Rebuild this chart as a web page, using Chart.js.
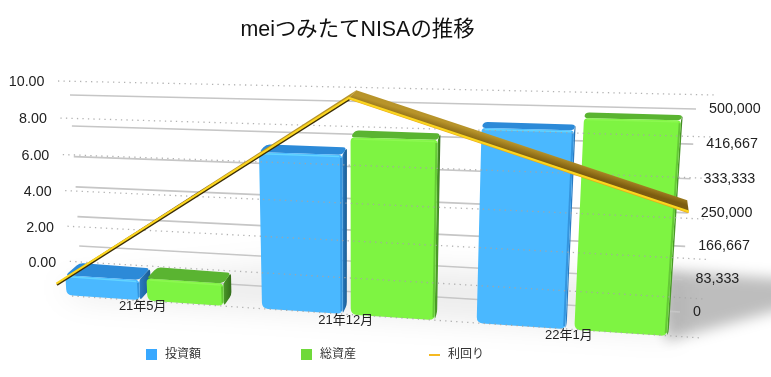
<!DOCTYPE html>
<html><head><meta charset="utf-8">
<style>html,body{margin:0;padding:0;background:#fff}canvas{display:block}</style>
<script src="https://cdn.jsdelivr.net/npm/chart.js@4"></script>
</head><body><canvas id="c" width="771" height="377"></canvas>
<script>
const categories=['21年5月','21年12月','22年1月'];
const invested=[46000,336000,398000];
const totalAssets=[50000,372000,422000];
const yieldRate=[-1.4,9.4,4.3];
const leftTicks=[-2,0,2,4,6,8,10];
const rightTicks=[0,83333,166667,250000,333333,416667,500000];

const FONT='"Liberation Sans","Noto Sans CJK JP",sans-serif';
const GROUP_PCT=.85,BAR_PCT=.91;
// perspective planes: TL, TR, BR, BL
const PLANES={
  wall:[[70,95],[696,109],[680,312],[81,275]],
  front:[[58,81],[715,95],[702,338],[72,296]],
  barFront:[[34.8,69],[708,78.6],[690,337.6],[49,294]],
  barBack:[[52,62],[710,73.6],[692,333.6],[64,281]],
  lineFront:[[44,79],[695,94],[682,336],[57,294]],
  lineBack:[[58,74],[695,84],[679,323],[68,286]]
};
function homography(q){
  const [[x0,y0],[x1,y1],[x2,y2],[x3,y3]]=q;
  const dx1=x1-x2,dx2=x3-x2,dx3=x0-x1+x2-x3,dy1=y1-y2,dy2=y3-y2,dy3=y0-y1+y2-y3;
  const d=dx1*dy2-dx2*dy1;
  const g=(dx3*dy2-dx2*dy3)/d,h=(dx1*dy3-dx3*dy1)/d;
  const a=x1-x0+g*x1,b=x3-x0+h*x3,c=x0,e=y1-y0+g*y1,f=y3-y0+h*y3,k=y0;
  return (u,v)=>{const w=g*u+h*v+1;return [(a*u+b*v+c)/w,(e*u+f*v+k)/w];};
}
const H={};for(const k in PLANES)H[k]=homography(PLANES[k]);

function poly(ctx,pts,r){
  ctx.beginPath();
  const n=pts.length;
  if(!r){pts.forEach((p,i)=>i?ctx.lineTo(p[0],p[1]):ctx.moveTo(p[0],p[1]));ctx.closePath();return;}
  const toward=(a,b,d)=>{const L=Math.hypot(b[0]-a[0],b[1]-a[1])||1,t=Math.min(d,L/2)/L;return [a[0]+(b[0]-a[0])*t,a[1]+(b[1]-a[1])*t];};
  pts.forEach((p,i)=>{
    const rad=Array.isArray(r)?r[i]:r;
    const s=toward(p,pts[(i+n-1)%n],rad),e=toward(p,pts[(i+1)%n],rad);
    if(i)ctx.lineTo(s[0],s[1]);else ctx.moveTo(s[0],s[1]);
    ctx.quadraticCurveTo(p[0],p[1],e[0],e[1]);
  });
  ctx.closePath();
}
const BAR_STYLE=[
 {front:'#4ab8ff',hi:'#62d4ff',top:'#2c8ad8',side:['#2a7cc4','#1b5c92'],edge:'rgba(36,120,195,.55)'},
 {front:'#7ef442',hi:'#8cf850',top:'#5ab431',side:['#4a9a28','#35701c'],edge:'rgba(80,165,45,.55)'}
];
const draw3d={
 id:'draw3d',
 beforeDatasetsDraw(chart){
  const ctx=chart.ctx,A=chart.chartArea,s=chart.scales;
  const U=x=>(x-A.left)/(A.right-A.left),V=y=>(y-A.top)/(A.bottom-A.top);
  const P=(pl,x,y)=>H[pl](U(x),V(y));
  ctx.save();
  // floor shadow
  ctx.save();ctx.filter='blur(14px)';ctx.fillStyle='rgba(0,0,0,.07)';
  poly(ctx,[[55,285],[300,262],[680,280],[680,335],[80,300]]);ctx.fill();
  ctx.filter='blur(7px)';ctx.fillStyle='rgba(0,0,0,.26)';
  poly(ctx,[[662,270],[800,280],[800,304],[666,341]]);ctx.fill();
  ctx.restore();
  // solid wall lines from right axis
  ctx.strokeStyle='#c6c6c6';ctx.lineWidth=1.6;
  s.y1.ticks.forEach(t=>{const y=s.y1.getPixelForValue(t.value);
    const a=P('wall',A.left,y),b=P('wall',A.right,y);
    ctx.beginPath();ctx.moveTo(a[0],a[1]);ctx.lineTo(b[0],b[1]);ctx.stroke();});
  // bars
  const metas=[chart.getDatasetMeta(0),chart.getDatasetMeta(1)];
  const band=s.x.getPixelForTick(1)-s.x.getPixelForTick(0),slot=band*GROUP_PCT/2;
  categories.forEach((_,i)=>{metas.forEach((m,j)=>{
    const b=m.data[i],st=BAR_STYLE[j];
    const cx=s.x.getPixelForTick(i)+(j-.5)*slot,w=slot*BAR_PCT;
    const l=cx-w/2,r=cx+w/2,t=b.y,base=b.base;
    const fTL=P('barFront',l,t),fTR=P('barFront',r,t),fBR=P('barFront',r,base),fBL=P('barFront',l,base);
    const bTL=P('barBack',l,t),bTR=P('barBack',r,t),bBR=P('barBack',r,base);
    // side
    const g=ctx.createLinearGradient(fTR[0],0,bTR[0],0);g.addColorStop(0,st.side[0]);g.addColorStop(1,st.side[1]);
    ctx.fillStyle=g;poly(ctx,[fTR,bTR,bBR,fBR],3);ctx.fill();
    // top
    ctx.fillStyle=st.top;poly(ctx,[fTL,bTL,bTR,fTR],4);ctx.fill();
    // front
    ctx.fillStyle=st.front;poly(ctx,[fTL,fTR,fBR,fBL],[4,4,6,6]);ctx.fill();
    ctx.strokeStyle=st.hi;ctx.lineWidth=1.5;ctx.beginPath();
    ctx.moveTo(fTL[0]+3,fTL[1]+1.5);ctx.lineTo(fTR[0]-3,fTR[1]+1.5);ctx.stroke();
    ctx.strokeStyle=st.edge;ctx.lineWidth=2;ctx.beginPath();
    ctx.moveTo(fTR[0]-1.2,fTR[1]+3);ctx.lineTo(fBR[0]-1.2,fBR[1]-3);ctx.stroke();
  });});
  // dotted lines from left axis
  ctx.strokeStyle='rgba(165,165,165,.85)';ctx.lineWidth=1.3;ctx.setLineDash([1.3,4.2]);
  s.y.ticks.forEach(t=>{const y=s.y.getPixelForValue(t.value);
    const a=P('front',A.left,y),b=P('front',A.right,y);
    ctx.beginPath();ctx.moveTo(a[0],a[1]);ctx.lineTo(b[0],b[1]);ctx.stroke();});
  ctx.setLineDash([]);
  // line ribbon
  const pts=chart.getDatasetMeta(2).data;
  for(let i=0;i<pts.length-1;i++){
    const a=pts[i],b=pts[i+1];
    const fa=P('lineFront',a.x,a.y),fb=P('lineFront',b.x,b.y),ba=P('lineBack',a.x,a.y),bb=P('lineBack',b.x,b.y);
    const mid=[(fa[0]+fb[0])/2,(fa[1]+fb[1])/2],md=[(ba[0]+bb[0])/2,(ba[1]+bb[1])/2];
    const g2=ctx.createLinearGradient(mid[0],mid[1],md[0],md[1]);
    g2.addColorStop(0,'#7c5c10');g2.addColorStop(1,'#b8942a');
    ctx.fillStyle=g2;
    poly(ctx,[fa,ba,bb,fb]);ctx.fill();
  }
  const L=pts.map(p=>P('lineFront',p.x,p.y));
  ctx.lineCap='butt';ctx.lineJoin='miter';
  ctx.strokeStyle='#3c2e06';ctx.lineWidth=2;ctx.beginPath();
  ctx.moveTo(L[0][0]+.6,L[0][1]+1.2);ctx.lineTo(L[1][0]+.6,L[1][1]+1.2);ctx.stroke();
  ctx.strokeStyle='#e8a818';ctx.lineWidth=1.5;ctx.beginPath();
  ctx.moveTo(L[1][0],L[1][1]+1);ctx.lineTo(L[2][0],L[2][1]+1);ctx.stroke();
  ctx.strokeStyle='#fbd51f';ctx.lineWidth=2.2;ctx.beginPath();
  L.forEach((p,i)=>i?ctx.lineTo(p[0],p[1]):ctx.moveTo(p[0],p[1]));ctx.stroke();
  // left axis labels
  ctx.fillStyle='#222';ctx.font='14.3px '+FONT;ctx.textBaseline='middle';ctx.textAlign='right';
  s.y.ticks.forEach(t=>{if(t.value<0)return;const y=s.y.getPixelForValue(t.value);
    const a=P('front',A.left,y);ctx.fillText(t.value.toFixed(2),a[0]-13.5,a[1]+1.5);});
  // right axis labels
  ctx.textAlign='left';
  s.y1.ticks.forEach(t=>{const y=s.y1.getPixelForValue(t.value);
    const b=P('wall',A.right,y);ctx.fillText(t.value.toLocaleString('en-US'),b[0]+13,b[1]);});
  // category labels
  ctx.font='13px '+FONT;ctx.textAlign='center';
  categories.forEach((c,i)=>{const p=P('barFront',s.x.getPixelForTick(i),s.y1.getPixelForValue(0));
    ctx.fillText(c,p[0]-1,p[1]+6);});
  // legend
  const ds=chart.data.datasets,LX=[146,301,429],LC=['#38a8ff','#6fd93a','#f5b921'];
  ctx.font='12px '+FONT;ctx.textAlign='left';
  ds.forEach((d,i)=>{ctx.fillStyle=LC[i];
    if(d.type==='line')ctx.fillRect(LX[i],354,11,2);else ctx.fillRect(LX[i],349,11,11);
    ctx.fillStyle='#333';ctx.fillText(d.label,LX[i]+19,355);});
  ctx.restore();
  return false;
 }
};
new Chart(document.getElementById('c'),{
 data:{labels:categories,datasets:[
  {type:'bar',label:'投資額',data:invested,xAxisID:'x',yAxisID:'y1'},
  {type:'bar',label:'総資産',data:totalAssets,xAxisID:'x',yAxisID:'y1'},
  {type:'line',label:'利回り',data:yieldRate,xAxisID:'x2',yAxisID:'y'}
 ]},
 options:{responsive:false,animation:false,
  layout:{padding:{right:56}},
  plugins:{legend:{display:false},tooltip:{enabled:false},
   title:{display:true,text:'meiつみたてNISAの推移',color:'#111',font:{family:FONT,size:21.4,weight:'normal'},padding:{top:17,bottom:8}}},
  scales:{
   x:{display:false,offset:true,type:'category'},
   x2:{display:false,offset:false,type:'category',labels:categories},
   y:{display:false,min:-2,max:10,afterBuildTicks(a){a.ticks=leftTicks.map(v=>({value:v}));}},
   y1:{display:false,min:0,max:500000,afterBuildTicks(a){a.ticks=rightTicks.map(v=>({value:v}));}}
  }},
 plugins:[draw3d]
});
</script></body></html>
